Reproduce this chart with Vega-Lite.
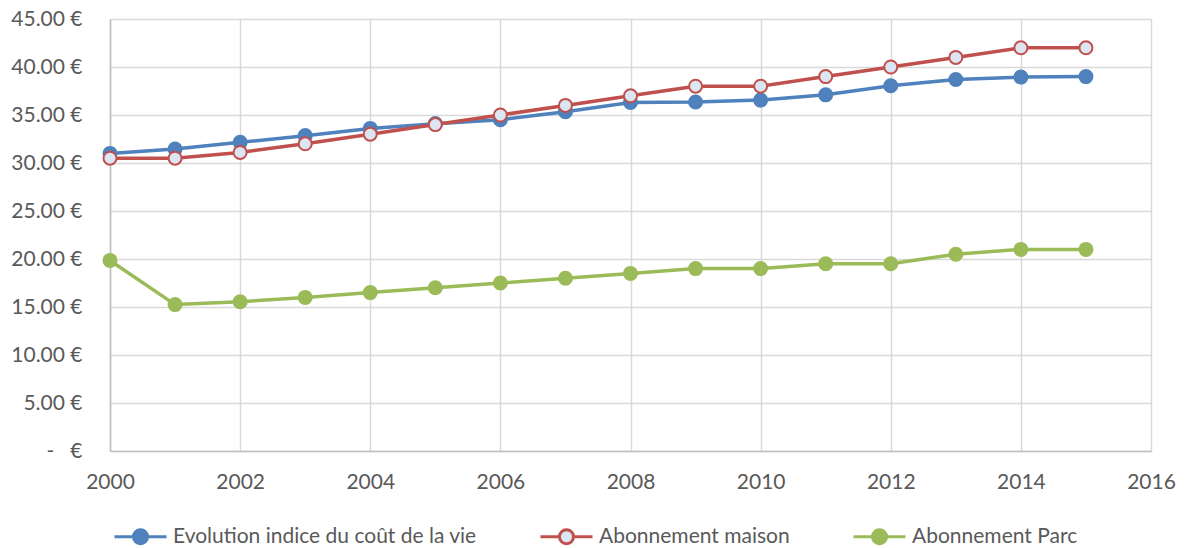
{
  "$schema": "https://vega.github.io/schema/vega-lite/v6.json",
  "width": 1041,
  "height": 432,
  "autosize": "none",
  "padding": {"left": 110, "top": 19, "right": 38, "bottom": 97},
  "background": "white",
  "config": {
    "font": "Lato",
    "view": {"stroke": null},
    "axis": {
      "labelFont": "Lato",
      "labelFontSize": 21,
      "labelColor": "#595959",
      "gridColor": "#d9d9d9",
      "gridWidth": 1.5,
      "domainColor": "#bfbfbf",
      "domainWidth": 1.5,
      "ticks": false,
      "title": null
    },
    "legend": {
      "labelFont": "Lato",
      "labelFontSize": 21,
      "labelColor": "#595959",
      "labelLimit": 0
    }
  },
  "data": {
    "values": [
      {"year": 2000, "series": "Evolution indice du coût de la vie", "value": 31.0},
      {"year": 2001, "series": "Evolution indice du coût de la vie", "value": 31.45},
      {"year": 2002, "series": "Evolution indice du coût de la vie", "value": 32.15},
      {"year": 2003, "series": "Evolution indice du coût de la vie", "value": 32.85},
      {"year": 2004, "series": "Evolution indice du coût de la vie", "value": 33.6},
      {"year": 2005, "series": "Evolution indice du coût de la vie", "value": 34.1},
      {"year": 2006, "series": "Evolution indice du coût de la vie", "value": 34.5},
      {"year": 2007, "series": "Evolution indice du coût de la vie", "value": 35.35},
      {"year": 2008, "series": "Evolution indice du coût de la vie", "value": 36.3},
      {"year": 2009, "series": "Evolution indice du coût de la vie", "value": 36.35},
      {"year": 2010, "series": "Evolution indice du coût de la vie", "value": 36.55},
      {"year": 2011, "series": "Evolution indice du coût de la vie", "value": 37.1},
      {"year": 2012, "series": "Evolution indice du coût de la vie", "value": 38.05},
      {"year": 2013, "series": "Evolution indice du coût de la vie", "value": 38.7},
      {"year": 2014, "series": "Evolution indice du coût de la vie", "value": 38.95},
      {"year": 2015, "series": "Evolution indice du coût de la vie", "value": 39.0},
      {"year": 2000, "series": "Abonnement maison", "value": 30.5},
      {"year": 2001, "series": "Abonnement maison", "value": 30.5},
      {"year": 2002, "series": "Abonnement maison", "value": 31.1},
      {"year": 2003, "series": "Abonnement maison", "value": 32.0},
      {"year": 2004, "series": "Abonnement maison", "value": 33.0},
      {"year": 2005, "series": "Abonnement maison", "value": 34.0},
      {"year": 2006, "series": "Abonnement maison", "value": 35.0},
      {"year": 2007, "series": "Abonnement maison", "value": 36.0},
      {"year": 2008, "series": "Abonnement maison", "value": 37.0},
      {"year": 2009, "series": "Abonnement maison", "value": 38.0},
      {"year": 2010, "series": "Abonnement maison", "value": 38.0},
      {"year": 2011, "series": "Abonnement maison", "value": 39.0},
      {"year": 2012, "series": "Abonnement maison", "value": 40.0},
      {"year": 2013, "series": "Abonnement maison", "value": 41.0},
      {"year": 2014, "series": "Abonnement maison", "value": 42.0},
      {"year": 2015, "series": "Abonnement maison", "value": 42.0},
      {"year": 2000, "series": "Abonnement Parc", "value": 19.85},
      {"year": 2001, "series": "Abonnement Parc", "value": 15.25},
      {"year": 2002, "series": "Abonnement Parc", "value": 15.55},
      {"year": 2003, "series": "Abonnement Parc", "value": 16.0},
      {"year": 2004, "series": "Abonnement Parc", "value": 16.5},
      {"year": 2005, "series": "Abonnement Parc", "value": 17.0},
      {"year": 2006, "series": "Abonnement Parc", "value": 17.5},
      {"year": 2007, "series": "Abonnement Parc", "value": 18.0},
      {"year": 2008, "series": "Abonnement Parc", "value": 18.5},
      {"year": 2009, "series": "Abonnement Parc", "value": 19.0},
      {"year": 2010, "series": "Abonnement Parc", "value": 19.0},
      {"year": 2011, "series": "Abonnement Parc", "value": 19.5},
      {"year": 2012, "series": "Abonnement Parc", "value": 19.5},
      {"year": 2013, "series": "Abonnement Parc", "value": 20.5},
      {"year": 2014, "series": "Abonnement Parc", "value": 21.0},
      {"year": 2015, "series": "Abonnement Parc", "value": 21.0}
    ]
  },
  "encoding": {
    "x": {
      "field": "year",
      "type": "quantitative",
      "scale": {"domain": [2000, 2016], "nice": false, "zero": false},
      "axis": {
        "values": [2000, 2002, 2004, 2006, 2008, 2010, 2012, 2014, 2016],
        "format": "d",
        "labelFlush": false,
        "labelPadding": 20,
        "labelOverlap": false
      }
    },
    "y": {
      "field": "value",
      "type": "quantitative",
      "scale": {"domain": [0, 45], "nice": false},
      "axis": {
        "values": [0, 5, 10, 15, 20, 25, 30, 35, 40, 45],
        "labelExpr": "datum.value == 0 ? '-\u00a0\u00a0\u00a0€' : format(datum.value, '.2f') + ' €'",
        "labelPadding": 28,
        "labelOverlap": false
      }
    }
  },
  "layer": [
    {
      "mark": {"type": "line", "strokeWidth": 3.5},
      "encoding": {
        "color": {
          "field": "series",
          "type": "nominal",
          "sort": ["Evolution indice du coût de la vie", "Abonnement maison", "Abonnement Parc"],
          "scale": {
            "domain": ["Evolution indice du coût de la vie", "Abonnement maison", "Abonnement Parc"],
            "range": ["#4f81bd", "#c0504d", "#9bbb59"]
          },
          "legend": {
            "title": null,
            "orient": "none",
            "direction": "horizontal",
            "legendX": 3,
            "legendY": 490,
            "columnPadding": 57,
            "labelOffset": 5,
            "labelLimit": 0,
            "symbolType": "M-1,0L-0.27,0M0.27,0L1,0M0.27,0A0.27,0.27 0 1,1 -0.27,0A0.27,0.27 0 1,1 0.27,0Z",
            "symbolSize": 2704,
            "symbolStrokeWidth": 3,
            "encode": {
              "symbols": {
                "update": {
                  "fill": {"signal": "datum.value === 'Abonnement maison' ? '#dce6f2' : datum.value === 'Abonnement Parc' ? '#9bbb59' : '#4f81bd'"},
                  "stroke": {"signal": "datum.value === 'Abonnement maison' ? '#c0504d' : datum.value === 'Abonnement Parc' ? '#9bbb59' : '#4f81bd'"},
                  "strokeWidth": {"value": 3},
                  "opacity": {"value": 1},
                  "fillOpacity": {"value": 1}
                }
              }
            }
          }
        }
      }
    },
    {
      "mark": {"type": "point", "filled": false, "size": 170, "strokeWidth": 2, "opacity": 1, "fillOpacity": 1},
      "encoding": {
        "fill": {
          "field": "series",
          "type": "nominal",
          "scale": {
            "domain": ["Evolution indice du coût de la vie", "Abonnement maison", "Abonnement Parc"],
            "range": ["#4f81bd", "#dce6f2", "#9bbb59"]
          },
          "legend": null
        },
        "stroke": {
          "field": "series",
          "type": "nominal",
          "scale": {
            "domain": ["Evolution indice du coût de la vie", "Abonnement maison", "Abonnement Parc"],
            "range": ["#4f81bd", "#c0504d", "#9bbb59"]
          },
          "legend": null
        }
      }
    }
  ]
}
